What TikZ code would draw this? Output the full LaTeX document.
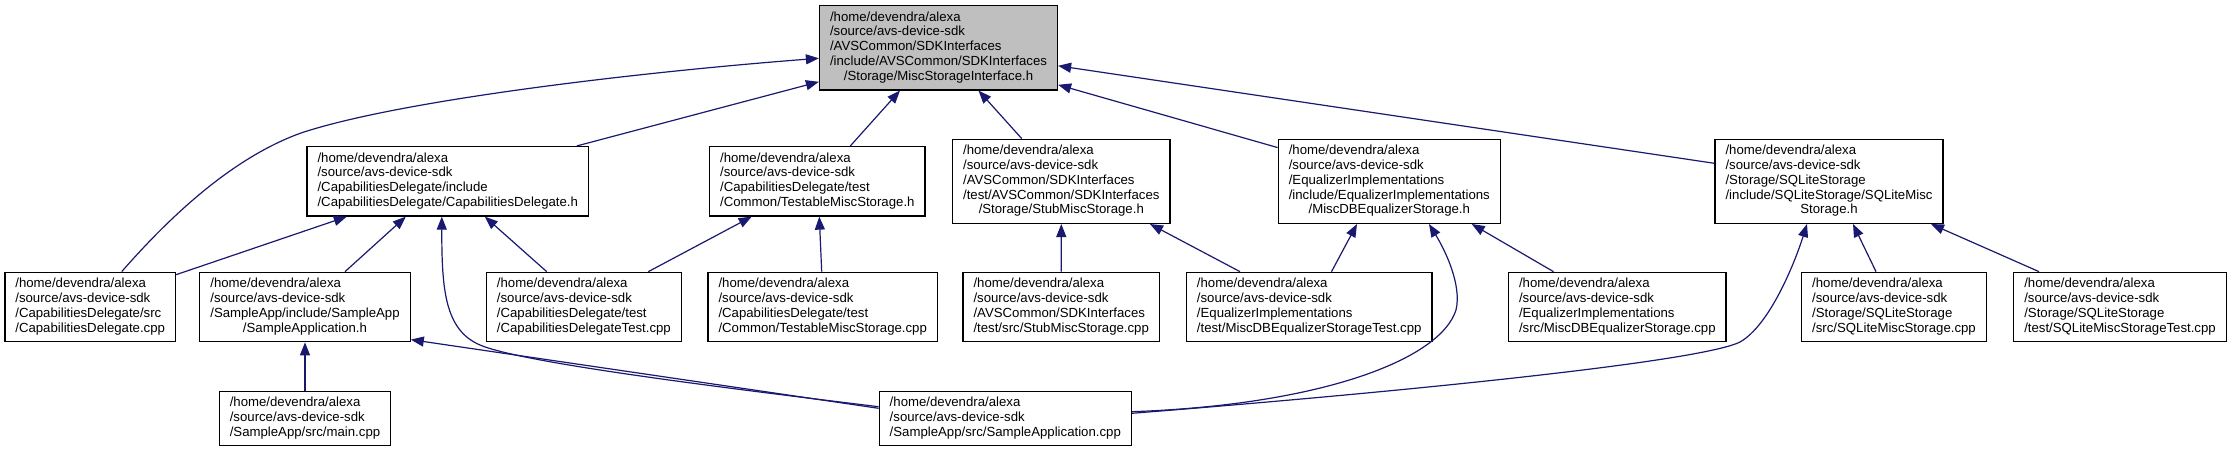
\documentclass[tikz,border=0pt]{standalone}
\usepackage{fontspec}
\setmainfont{Liberation Sans}
\usetikzlibrary{arrows.meta}

\definecolor{rootgray}{HTML}{BFBFBF}
\definecolor{edgeblue}{HTML}{191970}

% path lines: all left aligned, the last one centred
\newcommand{\sdkpath}{/home/devendra/alexa\\/source/avs-device-sdk}
\newcommand{\flabel}[2]{\begin{tabular}{@{}l@{}}#1\\\multicolumn{1}{@{}c@{}}{#2}\end{tabular}}

\tikzset{
  filebox/.style={draw=black, line width=1.3pt, fill=white, inner xsep=10.5pt, inner ysep=5.2pt,
    font=\fontsize{13.2}{14.75}\selectfont},
  rootbox/.style={filebox, fill=rootgray},
  dep/.style={edgeblue, line width=1.2pt, -{Triangle[length=13pt,width=10pt]}}
}

\begin{document}
\begin{tikzpicture}[x=1pt, y=-1pt]
  \fill[white] (0,0) rectangle (2233,452);
  \useasboundingbox (0,0) rectangle (2233,452);

  % the header itself
  \node[rootbox] (nRoot) at (938.5,47.8)
    {\flabel{\sdkpath\\/AVSCommon/SDKInterfaces\\/include/AVSCommon/SDKInterfaces}{/Storage/MiscStorageInterface.h}};

  % first row of includers
  \node[filebox] (nCapH) at (447.8,181.3)
    {\flabel{\sdkpath\\/CapabilitiesDelegate/include}{/CapabilitiesDelegate/CapabilitiesDelegate.h}};
  \node[filebox] (nTestH) at (817.3,181.3)
    {\flabel{\sdkpath\\/CapabilitiesDelegate/test}{/Common/TestableMiscStorage.h}};
  \node[filebox] (nStubH) at (1061.3,181.3)
    {\flabel{\sdkpath\\/AVSCommon/SDKInterfaces\\/test/AVSCommon/SDKInterfaces}{/Storage/StubMiscStorage.h}};
  \node[filebox] (nEqH) at (1389.3,181.3)
    {\flabel{\sdkpath\\/EqualizerImplementations\\/include/EqualizerImplementations}{/MiscDBEqualizerStorage.h}};
  \node[filebox] (nSqlH) at (1829,181.3)
    {\flabel{\sdkpath\\/Storage/SQLiteStorage\\/include/SQLiteStorage/SQLiteMisc}{Storage.h}};

  % second row
  \node[filebox] (nCapCpp) at (90.2,307)
    {\flabel{\sdkpath\\/CapabilitiesDelegate/src}{/CapabilitiesDelegate.cpp}};
  \node[filebox] (nAppH) at (305,307)
    {\flabel{\sdkpath\\/SampleApp/include/SampleApp}{/SampleApplication.h}};
  \node[filebox] (nCapTest) at (583.9,307)
    {\flabel{\sdkpath\\/CapabilitiesDelegate/test}{/CapabilitiesDelegateTest.cpp}};
  \node[filebox] (nTestCpp) at (822.7,307)
    {\flabel{\sdkpath\\/CapabilitiesDelegate/test}{/Common/TestableMiscStorage.cpp}};
  \node[filebox] (nStubCpp) at (1061.2,307)
    {\flabel{\sdkpath\\/AVSCommon/SDKInterfaces}{/test/src/StubMiscStorage.cpp}};
  \node[filebox] (nEqTest) at (1309.2,307)
    {\flabel{\sdkpath\\/EqualizerImplementations}{/test/MiscDBEqualizerStorageTest.cpp}};
  \node[filebox] (nEqCpp) at (1617.3,307)
    {\flabel{\sdkpath\\/EqualizerImplementations}{/src/MiscDBEqualizerStorage.cpp}};
  \node[filebox] (nSqlCpp) at (1894,307)
    {\flabel{\sdkpath\\/Storage/SQLiteStorage}{/src/SQLiteMiscStorage.cpp}};
  \node[filebox] (nSqlTest) at (2120,307)
    {\flabel{\sdkpath\\/Storage/SQLiteStorage}{/test/SQLiteMiscStorageTest.cpp}};

  % third row
  \node[filebox] (nMain) at (305,418.5)
    {\flabel{\sdkpath}{/SampleApp/src/main.cpp}};
  \node[filebox] (nAppCpp) at (1005.3,418.5)
    {\flabel{\sdkpath}{/SampleApp/src/SampleApplication.cpp}};

  % edges into the header
  \draw[dep] ([xshift=31.5pt]nCapCpp.north) .. controls (180,205) and (240,155) .. (301,133)
    .. controls (400,100) and (640,72) .. ([yshift=-10.5pt]nRoot.west);
  \draw[dep] ([xshift=129pt]nCapH.north) -- ([yshift=-34pt]nRoot.west);
  \draw[dep] ([xshift=33pt]nTestH.north) -- ([xshift=-38.5pt]nRoot.south);
  \draw[dep] ([xshift=-39.6pt]nStubH.north) -- ([xshift=40pt]nRoot.south);
  \draw[dep] ([yshift=-9pt]nEqH.north west) -- ([yshift=-37pt]nRoot.east);
  \draw[dep] ([yshift=18pt]nSqlH.west) -- ([yshift=-18pt]nRoot.east);

  % edges into the first row
  \draw[dep] ([yshift=-3pt]nCapCpp.north east) -- ([xshift=-101pt]nCapH.south);
  \draw[dep] ([xshift=40pt]nAppH.north) -- ([xshift=-42pt]nCapH.south);
  \draw[dep] ([yshift=11.8pt]nAppCpp.west) .. controls (700,385) and (520,362) .. (480,345)
    .. controls (445,330) and (441.7,290) .. ([xshift=-6pt]nCapH.south);
  \draw[dep] ([xshift=-37.2pt]nCapTest.north) -- ([xshift=37pt]nCapH.south);
  \draw[dep] ([xshift=64.4pt]nCapTest.north) -- ([xshift=-65.6pt]nTestH.south);
  \draw[dep] ([xshift=-1pt]nTestCpp.north) -- ([xshift=2pt]nTestH.south);
  \draw[dep] (nStubCpp.north) -- (nStubH.south);
  \draw[dep] ([xshift=-69.2pt]nEqTest.north) -- ([xshift=88.7pt]nStubH.south);
  \draw[dep] ([xshift=22.3pt]nEqTest.north) -- ([xshift=-32.3pt]nEqH.south);
  \draw[dep] ([yshift=6.8pt]nAppCpp.east) .. controls (1320,405) and (1440,360) .. (1456,310)
    .. controls (1462,285) and (1445,250) .. ([xshift=39.7pt]nEqH.south);
  \draw[dep] ([xshift=-63.8pt]nEqCpp.north) -- ([xshift=82.4pt]nEqH.south);
  \draw[dep] ([yshift=5.2pt]nAppCpp.east) .. controls (1400,392) and (1700,362) .. (1740,342)
    .. controls (1770,325) and (1795,262) .. ([xshift=-22pt]nSqlH.south);
  \draw[dep] ([xshift=-18pt]nSqlCpp.north) -- ([xshift=24pt]nSqlH.south);
  \draw[dep] ([xshift=-81pt]nSqlTest.north) -- ([xshift=102pt]nSqlH.south);

  % edges into the second row
  \draw[dep] (nMain.north) -- (nAppH.south);
  \draw[dep] ([yshift=10.2pt]nAppCpp.west) -- ([yshift=2.7pt]nAppH.south east);
\end{tikzpicture}
\end{document}
